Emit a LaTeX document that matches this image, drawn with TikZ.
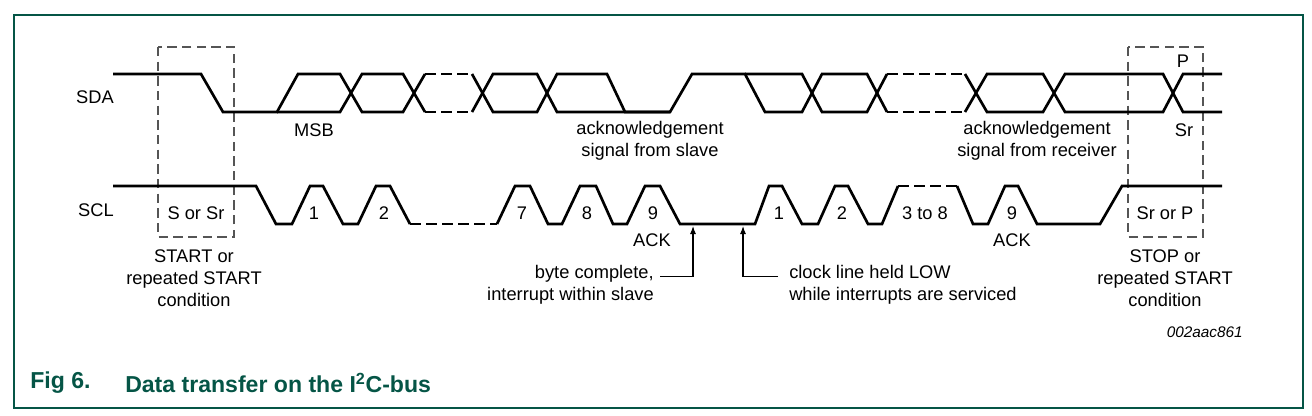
\documentclass[tikz,border=0pt]{standalone}
\usepackage{fontspec}
\setmainfont{Liberation Sans}
\usepackage{tikz}
\usetikzlibrary{arrows.meta,positioning,calc}

\definecolor{nxpgreen}{RGB}{5,85,70}
\definecolor{boxgray}{RGB}{85,85,85}

\begin{document}
\begin{tikzpicture}[
  x=0.75pt,y=-0.75pt,
  sig/.style={line width=2pt,black,line join=miter},
  gapline/.style={sig,dash pattern=on 8pt off 4pt},
  cond/.style={line width=1.1pt,boxgray,dash pattern=on 7pt off 4pt},
  lbl/.style={font=\fontsize{13.7}{16.5}\selectfont,inner sep=0pt,align=center},
  arr/.style={-{Latex[length=6pt,width=4.5pt]},line width=0.8pt},
  frame/.style={line width=0.9pt,draw=nxpgreen}
]
\useasboundingbox (0,0) rectangle (1312,415);
\draw[frame] (14,15) rectangle (1303,408);

% start / stop condition boxes
\draw[cond] (158,47) rectangle (234,237);
\draw[cond] (1128,47) rectangle (1203,237);

% SDA
\draw[sig] (113,74) -- (201,74) -- (223,112) -- (277,112) -- (298,74) -- (340,74) -- (362,112) -- (403,112) -- (425,74);
\draw[sig] (277,112) -- (340,112) -- (362,74) -- (403,74) -- (425,112);
\draw[gapline] (425,74) -- (472,74);
\draw[gapline] (425,112) -- (472,112);
\draw[sig] (472,74) -- (493,112) -- (537,112) -- (557,74) -- (607,74) -- (625,112) -- (670,112) -- (692,74) -- (745,74) -- (765,112) -- (802,112) -- (822,74) -- (867,74) -- (887,112);
\draw[sig] (472,112) -- (493,74) -- (537,74) -- (557,112) -- (670,112);
\draw[sig] (745,74) -- (802,74) -- (822,112) -- (867,112) -- (887,74);
\draw[gapline] (887,74) -- (965,74);
\draw[gapline] (887,112) -- (965,112);
\draw[sig] (965,74) -- (987,112) -- (1043,112) -- (1065,74) -- (1163,74) -- (1183,112) -- (1222,112);
\draw[sig] (965,112) -- (987,74) -- (1043,74) -- (1065,112) -- (1163,112) -- (1183,74) -- (1222,74);

% SCL
\draw[sig] (113,186) -- (256,186) -- (276,224) -- (292,224) -- (310,186) -- (323,186) -- (343,224) -- (358,224) -- (376,186) -- (390,186) -- (410,224);
\draw[gapline] (410,224) -- (497,224);
\draw[sig] (497,224) -- (515,186) -- (530,186) -- (548,224) -- (562,224) -- (580,186) -- (596,186) -- (613,224) -- (627,224) -- (645,186) -- (660,186) -- (680,224) -- (755,224) -- (769,186) -- (782,186) -- (802,224) -- (818,224) -- (835,186) -- (848,186) -- (868,224) -- (882,224) -- (898,186);
\draw[gapline] (898,186) -- (957,186);
\draw[sig] (957,186) -- (973,224) -- (988,224) -- (1005,186) -- (1018,186) -- (1037,224) -- (1100,224) -- (1122,186) -- (1222,186);

% line names
\node[lbl] (sda) at (95,97) {SDA};
\node[lbl] (scl) at (96,210) {SCL};

% SDA labels
\node[lbl] (msb) at (314,130) {MSB};
\node[lbl] (ackslave) at (650,141) {acknowledgement\\signal from slave};
\node[lbl] (ackrecv) at (1037,141) {acknowledgement\\signal from receiver};
\node[lbl] (stopp) at (1183,61) {P};
\node[lbl] (restart) at (1184,130) {Sr};

% SCL pulse numbers
\node[lbl] (bit1) at (314,213) {1};
\node[lbl] (bit2) at (384,213) {2};
\node[lbl] (bit7) at (522,213) {7};
\node[lbl] (bit8) at (587,213) {8};
\node[lbl] (bit9) at (653,213) {9};
\node[lbl] (nbit1) at (779,213) {1};
\node[lbl] (nbit2) at (842,213) {2};
\node[lbl] (nbit3) at (925,213) {3 to 8};
\node[lbl] (nbit9) at (1012,213) {9};
\node[lbl] (ack1) at (652,240) {ACK};
\node[lbl] (ack2) at (1012,240) {ACK};

% conditions
\node[lbl] (startin) at (196,213) {S or Sr};
\node[lbl] (stopin) at (1165,213) {Sr or P};
\node[lbl] (startcond) at (194,278) {START or\\repeated START\\condition};
\node[lbl] (stopcond) at (1165,278) {STOP or\\repeated START\\condition};

% interrupt notes
\node[lbl,align=right,anchor=east] (bytedone) at (654,285) {byte complete,\\interrupt within slave};
\node[lbl,align=left,anchor=west] (heldlow) at (789,285) {clock line held LOW\\while interrupts are serviced};
\coordinate (bytetip) at (693,226);
\coordinate (heldtip) at (743,226);
\draw[arr] ($(bytedone.north east)+(6,11)$) -| (bytetip);
\draw[arr] ($(heldlow.north west)+(-11,11)$) -| (heldtip);

\node[font=\fontsize{11.5}{13}\selectfont\itshape,inner sep=0pt,anchor=east] (docid) at (1243,332) {002aac861};

% caption
\node[font=\fontsize{17.3}{20}\selectfont\bfseries,text=nxpgreen,inner sep=0pt,anchor=west] (fignum) at (30,383) {Fig 6.};
\node[font=\fontsize{17.3}{20}\selectfont\bfseries,text=nxpgreen,inner sep=0pt,anchor=west] (figtitle) at (125,383) {Data transfer on the I\textsuperscript{2}C-bus};
\end{tikzpicture}
\end{document}
